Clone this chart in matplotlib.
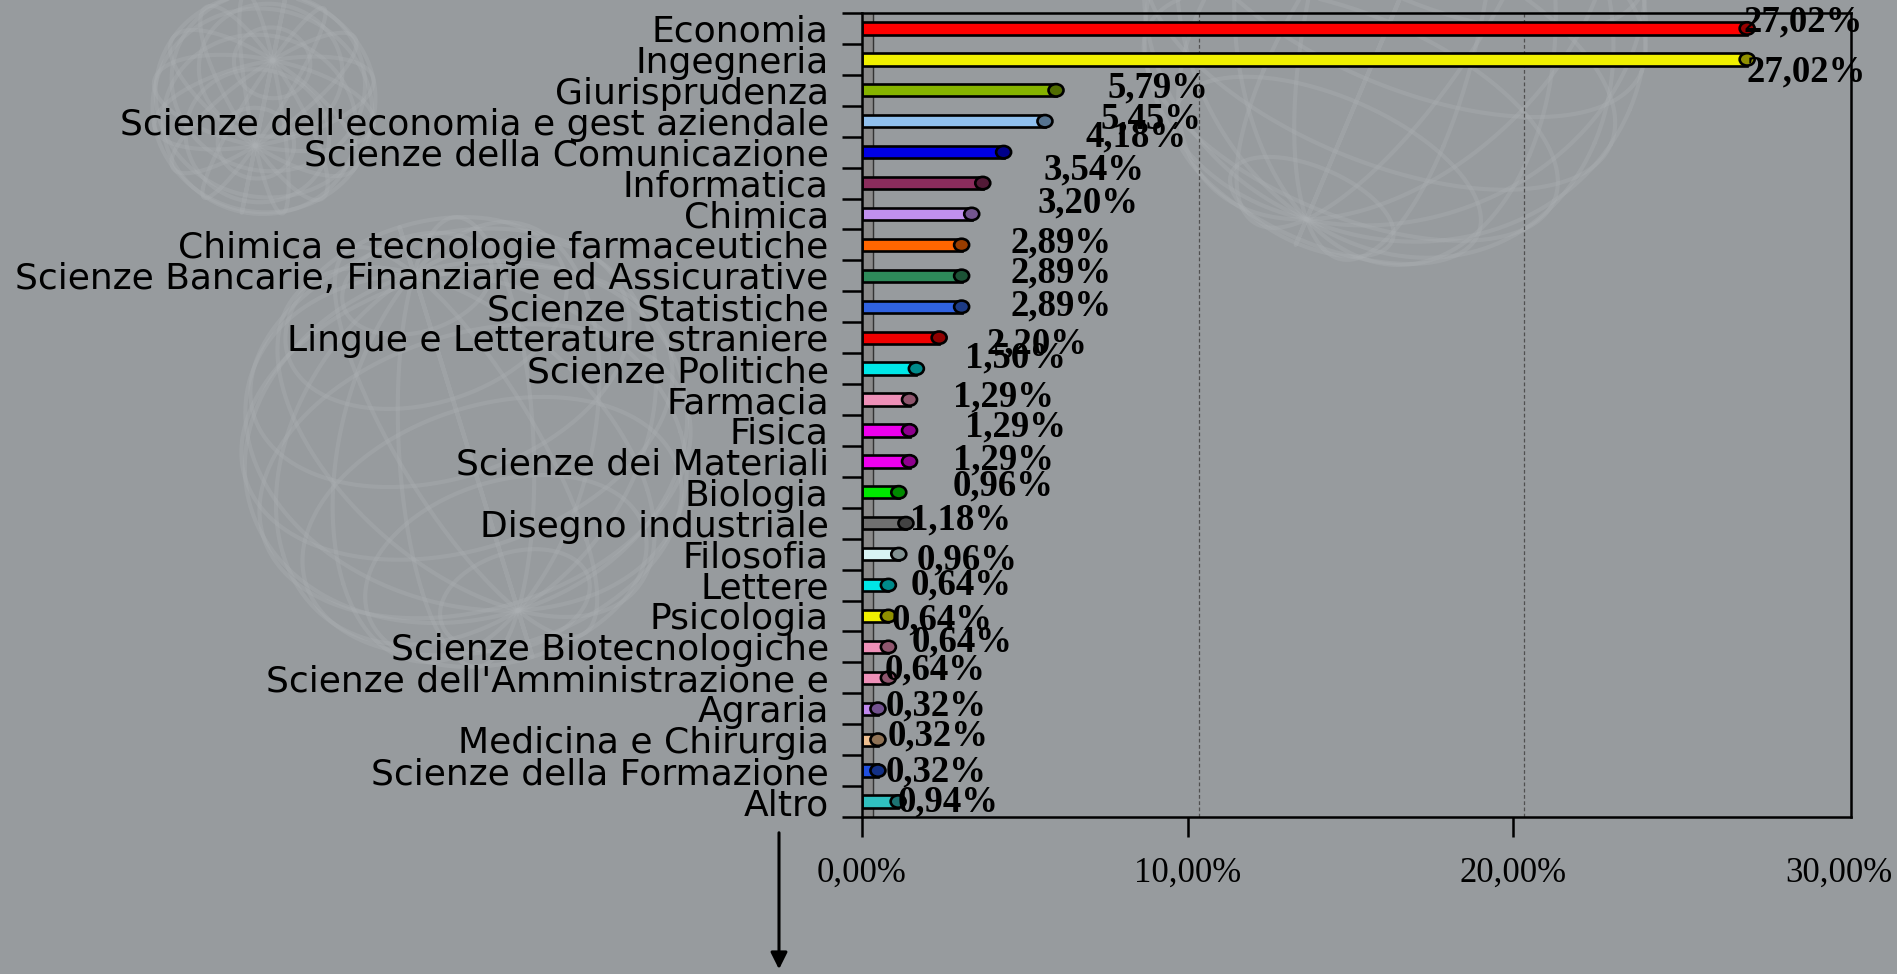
import numpy as np
import matplotlib.pyplot as plt
from matplotlib.patches import Ellipse
from matplotlib.colors import to_rgb

categories = [
    "Economia", "Ingegneria", "Giurisprudenza",
    "Scienze dell'economia e gest aziendale", "Scienze della Comunicazione",
    "Informatica", "Chimica", "Chimica e tecnologie farmaceutiche",
    "Scienze Bancarie, Finanziarie ed Assicurative", "Scienze Statistiche",
    "Lingue e Letterature straniere", "Scienze Politiche", "Farmacia", "Fisica",
    "Scienze dei Materiali", "Biologia", "Disegno industriale", "Filosofia",
    "Lettere", "Psicologia", "Scienze Biotecnologiche",
    "Scienze dell'Amministrazione e", "Agraria", "Medicina e Chirurgia",
    "Scienze della Formazione", "Altro",
]
values = [27.02, 27.02, 5.79, 5.45, 4.18, 3.54, 3.20, 2.89, 2.89, 2.89, 2.20,
          1.50, 1.29, 1.29, 1.29, 0.96, 1.18, 0.96, 0.64, 0.64, 0.64, 0.64,
          0.32, 0.32, 0.32, 0.94]
colors = ["#ff0000", "#f0f000", "#86b400", "#90c0ee", "#0000e6", "#8a2c5c",
          "#c090ee", "#ff6600", "#2e8a5a", "#3062e0", "#f00000", "#00e8e8",
          "#ee90b8", "#ee00ee", "#ee00ee", "#00e800", "#707070", "#d8f4f4",
          "#00e6e6", "#f0f000", "#ee90b8", "#ee90b8", "#c088ee", "#f0c090",
          "#2050e0", "#30c0c0"]
# where Excel put the data labels (x in %, y shift in rows)
label_x = [28.91, 29.00, 9.10, 8.88, 8.42, 7.13, 6.94, 6.12, 6.12, 6.12, 5.38,
           4.70, 4.34, 4.70, 4.34, 4.34, 3.04, 3.22, 3.04, 2.46, 3.07, 2.24,
           2.27, 2.34, 2.27, 2.64]
label_dy = [-0.21, 0.41, -0.07, -0.07, -0.49, -0.42, -0.36, -0.06, -0.09, -0.03,
            0.2, -0.34, -0.08, -0.11, -0.05, -0.2, -0.1, 0.19, 0.0, 0.13, -0.16,
            -0.25, -0.09, -0.12, 0.05, 0.0]
xticks = [0, 10, 20, 30]
xtick_labels = ["0,00%", "10,00%", "20,00%", "30,00%"]

W, H = 1897, 974
bgcol = "#979b9e"
depth = 0.17  # half the depth of the 3D floor, in %
fig = plt.figure(figsize=(W / 100, H / 100), dpi=100, facecolor=bgcol)


def sphere(ax, cx, cy, r, tilt=0.5, rot=0.3):
    t = np.linspace(0, 2 * np.pi, 200)
    kw = dict(color="#adb1b4", lw=3, alpha=0.33, solid_capstyle="round")
    for lat in np.radians(np.arange(-70, 80, 20)):
        x = np.cos(lat) * np.cos(t)
        y = np.cos(lat) * np.sin(t)
        z = np.full_like(t, np.sin(lat))
        yy = y * np.cos(tilt) - z * np.sin(tilt)
        xx = x * np.cos(rot) - yy * np.sin(rot)
        yr = x * np.sin(rot) + yy * np.cos(rot)
        ax.plot(cx + r * xx, cy + r * yr, **kw)
    for lon in np.radians(np.arange(0, 180, 22.5)):
        x = np.cos(t) * np.cos(lon)
        y = np.cos(t) * np.sin(lon)
        z = np.sin(t)
        yy = y * np.cos(tilt) - z * np.sin(tilt)
        xx = x * np.cos(rot) - yy * np.sin(rot)
        yr = x * np.sin(rot) + yy * np.cos(rot)
        ax.plot(cx + r * xx, cy + r * yr, **kw)


bg = fig.add_axes([0, 0, 1, 1], zorder=0)
bg.set_xlim(0, W)
bg.set_ylim(H, 0)
bg.axis("off")
sphere(bg, 264, 103, 112, 0.4, 0.2)
sphere(bg, 466, 442, 225, 0.9, -0.3)
sphere(bg, 1395, 10, 255, 1.1, 0.4)

ax = fig.add_axes([862 / W, 1 - 817 / H, (1851 - 862) / W, (817 - 13) / H], zorder=1)
ax.patch.set_alpha(0)
n = len(categories)
y = np.arange(n)
ax.set_xlim(0, 30.38)
ax.set_ylim(n - 0.5, -0.5)

# side wall of the 3D chart and the gridlines on the back wall
ax.axvspan(0, 2 * depth, color="#8a8a8a", zorder=1)
ax.axvline(2 * depth, color="#333333", lw=1, zorder=1)
for gx in xticks[1:3]:
    ax.axvline(gx + 2 * depth, color="#505050", lw=0.9, ls=(0, (3, 2)), zorder=1)

bh = 0.4
ax.barh(y, [v + depth for v in values], height=bh, color=colors,
        edgecolor="black", linewidth=1.9, zorder=3)
for i, v in enumerate(values):
    dark = tuple(c * 0.6 for c in to_rgb(colors[i]))
    ax.add_patch(Ellipse((v + depth, i), 0.46, bh, facecolor=dark,
                         edgecolor="black", linewidth=1.9, zorder=4))
    ax.text(label_x[i], i + label_dy[i], f"{v:.2f}%".replace(".", ","),
            ha="center", va="center", fontsize=26.5, fontweight="bold",
            family="Liberation Serif", zorder=5)

ax.set_yticks(y)
ax.set_yticklabels(categories, fontsize=26, family="DejaVu Sans")
ax.set_yticks(np.arange(-0.5, n), minor=True)
ax.tick_params(axis="y", which="major", length=0, pad=24)
ax.tick_params(axis="y", which="minor", length=14.4, width=1.8, direction="out")

ax.set_xticks(xticks)
ax.set_xticklabels(xtick_labels, fontsize=25, family="Liberation Serif")
ax.tick_params(axis="x", length=14.4, width=1.8, direction="out", pad=14)
ax.xaxis.get_major_ticks()[-1].tick1line.set_visible(False)

for s in ax.spines.values():
    s.set_linewidth(1.8)
    s.set_color("black")
    s.set_zorder(6)

ax.annotate("", xy=(779, 2), xytext=(779, 144), xycoords="figure pixels",
            textcoords="figure pixels",
            arrowprops=dict(arrowstyle="-|>", color="black", lw=2.2, mutation_scale=25))

fig.savefig("out.png", dpi=100, facecolor=bgcol)
